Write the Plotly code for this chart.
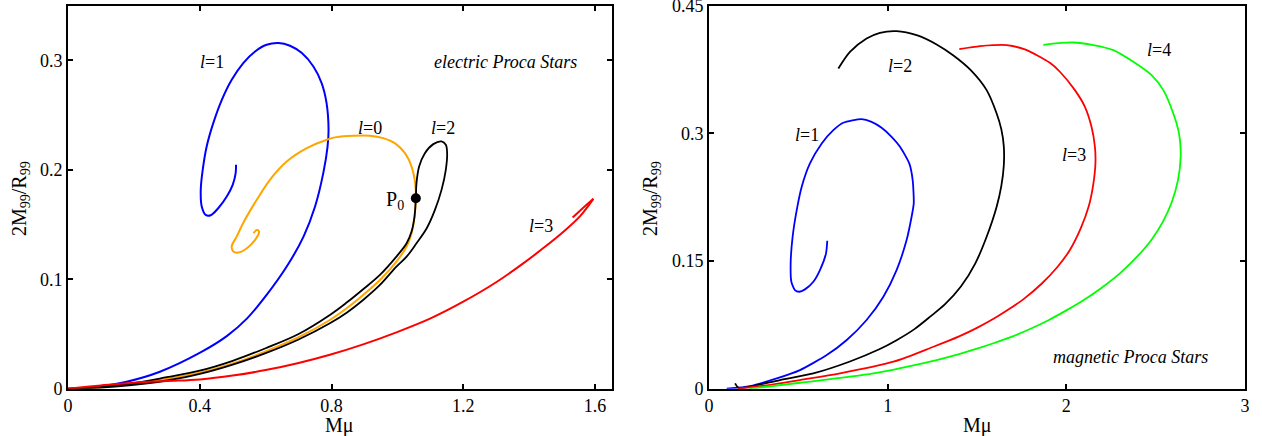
import plotly.graph_objects as go

# ---------------- electric Proca stars (left panel) ----------------
e_l1_x = [0, 0.077, 0.178, 0.279, 0.401, 0.482, 0.543, 0.603, 0.664, 0.715, 0.750, 0.775, 0.788,
          0.791, 0.785, 0.770, 0.745, 0.710, 0.674, 0.639, 0.603, 0.568, 0.532, 0.497, 0.467,
          0.441, 0.421, 0.409, 0.403, 0.406, 0.418, 0.433, 0.456, 0.482, 0.500, 0.509, 0.510]
e_l1_y = [0, 0.0015, 0.0064, 0.0155, 0.0329, 0.0480, 0.0640, 0.0857, 0.1116, 0.1390, 0.1665, 0.1970,
          0.2213, 0.2366, 0.2610, 0.2793, 0.2945, 0.3067, 0.3134, 0.3159, 0.3143, 0.3082, 0.2976,
          0.2823, 0.2640, 0.2427, 0.2213, 0.2000, 0.1817, 0.1665, 0.1588, 0.1585, 0.1649, 0.1756,
          0.1863, 0.1970, 0.2046]

e_l0_x = [0, 0.1, 0.2, 0.3, 0.4, 0.5, 0.6, 0.7, 0.795, 0.846, 0.896, 0.947, 0.997, 1.028, 1.043,
          1.052, 1.056, 1.054, 1.043, 1.023, 0.992, 0.957, 0.916, 0.866, 0.815, 0.790, 0.725,
          0.664, 0.613, 0.573, 0.537, 0.512, 0.497, 0.502, 0.517, 0.543, 0.568, 0.580, 0.573, 0.563]
e_l0_y = [0, 0.0012, 0.0045, 0.009, 0.0145, 0.023, 0.034, 0.047, 0.0628, 0.0735, 0.0857, 0.0994,
          0.1162, 0.1299, 0.1421, 0.1573, 0.1741, 0.1878, 0.2030, 0.2152, 0.2244, 0.2290, 0.2311,
          0.2311, 0.2299, 0.2280, 0.2198, 0.2076, 0.1909, 0.1726, 0.1543, 0.1390, 0.1300, 0.1253,
          0.1244, 0.1284, 0.1360, 0.1436, 0.1451, 0.1420]

e_l2_x = [0, 0.1, 0.2, 0.3, 0.4, 0.5, 0.6, 0.7, 0.795, 0.846, 0.896, 0.947, 0.997, 1.028, 1.043,
          1.052, 1.056, 1.058, 1.066, 1.083, 1.109, 1.134, 1.147, 1.151, 1.147, 1.134, 1.114,
          1.089, 1.058, 1.028, 0.997, 0.947, 0.896, 0.846, 0.795, 0.7, 0.6, 0.5, 0.4, 0.3, 0.2,
          0.1, 0.02]
e_l2_y = [0, 0.0015, 0.005, 0.0105, 0.0165, 0.0255, 0.037, 0.050, 0.0674, 0.0787, 0.0909, 0.1040,
          0.1207, 0.1329, 0.1436, 0.1573, 0.1741, 0.1880, 0.2030, 0.2150, 0.2235, 0.2260, 0.2229,
          0.2152, 0.2000, 0.1817, 0.1634, 0.1466, 0.1329, 0.1207, 0.1116, 0.0948, 0.0811, 0.0695,
          0.0598, 0.045, 0.0325, 0.022, 0.0135, 0.0075, 0.0035, 0.001, 0.0]

# l=3 branch up to the cusp, then the short return branch
e_l3_x = [0, 0.05, 0.1, 0.2, 0.3, 0.4, 0.5, 0.6, 0.7, 0.795, 0.896, 0.997, 1.099, 1.2, 1.301,
          1.382, 1.443, 1.504, 1.554, 1.595]
e_l3_y = [0, 0.0015, 0.003, 0.0055, 0.007, 0.0085, 0.012, 0.017, 0.0235, 0.031, 0.0405, 0.0515,
          0.064, 0.0795, 0.0975, 0.1145, 0.1285, 0.1435, 0.1575, 0.1735]
e_l3_ret_x = [1.595, 1.565, 1.532]
e_l3_ret_y = [0.1735, 0.1655, 0.1565]

p0_x = [1.056]
p0_y = [0.1741]

# ---------------- magnetic Proca stars (right panel) ----------------
m_l1_x = [0.099, 0.229, 0.379, 0.509, 0.659, 0.771, 0.882, 0.976, 1.050, 1.106, 1.134, 1.146,
          1.140, 1.121, 1.069, 1.022, 0.966, 0.910, 0.854, 0.752, 0.696, 0.631, 0.565, 0.519,
          0.491, 0.468, 0.457, 0.461, 0.481, 0.506, 0.537, 0.584, 0.621, 0.655, 0.662]
m_l1_y = [0, 0.0031, 0.0121, 0.0219, 0.0395, 0.0572, 0.0807, 0.1081, 0.1394, 0.1746, 0.2020,
          0.2177, 0.2451, 0.2647, 0.2843, 0.2960, 0.3066, 0.3136, 0.3168, 0.3125, 0.3038, 0.2882,
          0.2647, 0.2373, 0.2099, 0.1785, 0.1472, 0.1257, 0.1159, 0.1139, 0.1167, 0.1257, 0.1394,
          0.1590, 0.1738]

m_l2_x = [0.146, 0.165, 0.229, 0.397, 0.584, 0.789, 0.950, 1.050, 1.150, 1.240, 1.320, 1.410,
          1.490, 1.554, 1.610, 1.636, 1.650, 1.650, 1.636, 1.610, 1.554, 1.465, 1.368, 1.274,
          1.162, 1.050, 0.957, 0.882, 0.789, 0.724]
m_l2_y = [0.0063, 0.0012, 0.0025, 0.0102, 0.018, 0.032, 0.046, 0.057, 0.070, 0.085, 0.099, 0.120,
          0.147, 0.1785, 0.2138, 0.238, 0.262, 0.285, 0.305, 0.3234, 0.3508, 0.3743, 0.3915,
          0.4045, 0.4154, 0.4201, 0.4182, 0.4115, 0.3958, 0.3763]

m_l3_x = [0.16, 0.323, 0.509, 0.733, 1.032, 1.256, 1.40, 1.50, 1.60, 1.68, 1.759, 1.86, 1.95,
          2.02, 2.08, 2.125, 2.15, 2.163, 2.160, 2.141, 2.104, 2.048, 1.964, 1.908, 1.768, 1.666,
          1.591, 1.517, 1.401]
m_l3_y = [0.0, 0.0039, 0.0102, 0.018, 0.0317, 0.0493, 0.0615, 0.0715, 0.083, 0.0935, 0.105, 0.123,
          0.143, 0.163, 0.188, 0.214, 0.239, 0.265, 0.2843, 0.3078, 0.3312, 0.3508, 0.3724,
          0.3829, 0.3986, 0.4037, 0.4037, 0.4025, 0.399]

m_l4_x = [0.229, 0.509, 0.920, 1.274, 1.40, 1.50, 1.60, 1.70, 1.80, 1.90, 2.00, 2.10, 2.20, 2.30,
          2.40, 2.48, 2.54, 2.59, 2.625, 2.640, 2.637, 2.627, 2.599, 2.543, 2.477, 2.375, 2.263,
          2.151, 2.039, 1.871]
m_l4_y = [0.0, 0.007, 0.018, 0.0337, 0.0405, 0.047, 0.054, 0.0615, 0.0705, 0.0805, 0.092, 0.1045,
          0.119, 0.1355, 0.156, 0.176, 0.196, 0.219, 0.245, 0.272, 0.290, 0.3038, 0.3234, 0.3508,
          0.3684, 0.3841, 0.3978, 0.4037, 0.4068, 0.4041]

# ticks
left_xticks = [0, 0.4, 0.8, 1.2, 1.6]
left_xtext = ["0", "0.4", "0.8", "1.2", "1.6"]
left_yticks = [0, 0.1, 0.2, 0.3]
left_ytext = ["0", "0.1", "0.2", "0.3"]
right_xticks = [0, 1, 2, 3]
right_xtext = ["0", "1", "2", "3"]
right_yticks = [0, 0.15, 0.3, 0.45]
right_ytext = ["0", "0.15", "0.3", "0.45"]

SERIF = "Liberation Serif, Times New Roman, serif"
BLUE, ORANGE, BLACK, RED, GREEN = "#0000ff", "#ffa500", "#000000", "#ff0000", "#00ff00"

fig = go.Figure()


def curve(x, y, color, xa, ya, width=2.0, smooth=1.0):
    fig.add_trace(go.Scatter(x=x, y=y, mode="lines",
                             line=dict(color=color, width=width, shape="spline", smoothing=smooth),
                             xaxis=xa, yaxis=ya, hoverinfo="skip", showlegend=False))


curve(e_l1_x, e_l1_y, BLUE, "x", "y")
curve(e_l0_x, e_l0_y, ORANGE, "x", "y")
curve(e_l2_x, e_l2_y, BLACK, "x", "y", width=1.8)
curve(e_l3_x, e_l3_y, RED, "x", "y")
curve(e_l3_ret_x, e_l3_ret_y, RED, "x", "y")
fig.add_trace(go.Scatter(x=p0_x, y=p0_y, mode="markers", marker=dict(color="black", size=10),
                         xaxis="x", yaxis="y", hoverinfo="skip", showlegend=False))

curve(m_l1_x, m_l1_y, BLUE, "x2", "y2", width=1.8, smooth=0.6)
curve(m_l2_x, m_l2_y, BLACK, "x2", "y2", width=1.8, smooth=0.8)
curve(m_l3_x, m_l3_y, RED, "x2", "y2", width=1.8, smooth=0.8)
curve(m_l4_x, m_l4_y, GREEN, "x2", "y2", width=1.8, smooth=0.8)

W, H = 1262, 436
y_dom = [1 - 388.7 / H, 1 - 5.7 / H]

axis_style = dict(showline=True, linecolor="black", linewidth=2, mirror="ticks",
                  ticks="inside", ticklen=5, tickwidth=1.5, tickcolor="black",
                  showgrid=False, zeroline=False, automargin=False,
                  ticklabeloverflow="allow",
                  tickfont=dict(family=SERIF, size=18, color="black"))

fig.update_layout(
    width=W, height=H,
    margin=dict(l=0, r=0, t=0, b=0),
    paper_bgcolor="white", plot_bgcolor="white",
    xaxis=dict(domain=[68 / W, 611.5 / W], range=[0, 1.65], anchor="y",
               tickmode="array", tickvals=left_xticks, ticktext=left_xtext, **axis_style),
    yaxis=dict(domain=y_dom, range=[0, 0.35], anchor="x",
               tickmode="array", tickvals=left_yticks, ticktext=left_ytext, **axis_style),
    xaxis2=dict(domain=[709 / W, 1245 / W], range=[0, 3.0001], anchor="y2",
                tickmode="array", tickvals=right_xticks, ticktext=right_xtext, **axis_style),
    yaxis2=dict(domain=y_dom, range=[0, 0.45001], anchor="x2",
                tickmode="array", tickvals=right_yticks, ticktext=right_ytext, **axis_style),
)

labels = [
    ("x", "y", 0.436, 0.299, "<i>l</i>=1", 18),
    ("x", "y", 0.918, 0.2386, "<i>l</i>=0", 18),
    ("x", "y", 1.1376, 0.2386, "<i>l</i>=2", 18),
    ("x", "y", 1.436, 0.149, "<i>l</i>=3", 18),
    ("x", "y", 0.994, 0.172, "P<sub>0</sub>", 20),
    ("x", "y", 1.329, 0.299, "<i>electric Proca Stars</i>", 18),
    ("x2", "y2", 0.548, 0.2984, "<i>l</i>=1", 18),
    ("x2", "y2", 1.0706, 0.3787, "<i>l</i>=2", 18),
    ("x2", "y2", 2.041, 0.2745, "<i>l</i>=3", 18),
    ("x2", "y2", 2.516, 0.3977, "<i>l</i>=4", 18),
    ("x2", "y2", 2.358, 0.0376, "<i>magnetic Proca Stars</i>", 18),
]
for xr, yr, x, y, t, s in labels:
    fig.add_annotation(xref=xr, yref=yr, x=x, y=y, text=t, showarrow=False,
                       xanchor="center", yanchor="middle",
                       font=dict(family=SERIF, size=s, color="black"))

title_font = dict(family=SERIF, size=20, color="black")
for cx in (339.5, 977):
    fig.add_annotation(xref="paper", yref="paper", x=cx / W, y=1 - 425 / H, text="Mμ",
                       showarrow=False, xanchor="center", yanchor="middle", font=title_font)
for cx in (20, 651):
    fig.add_annotation(xref="paper", yref="paper", x=cx / W, y=1 - 199 / H,
                       text="2M<sub>99</sub>/R<sub>99</sub>", textangle=-90,
                       showarrow=False, xanchor="center", yanchor="middle", font=title_font)

fig.write_html("out.html")
